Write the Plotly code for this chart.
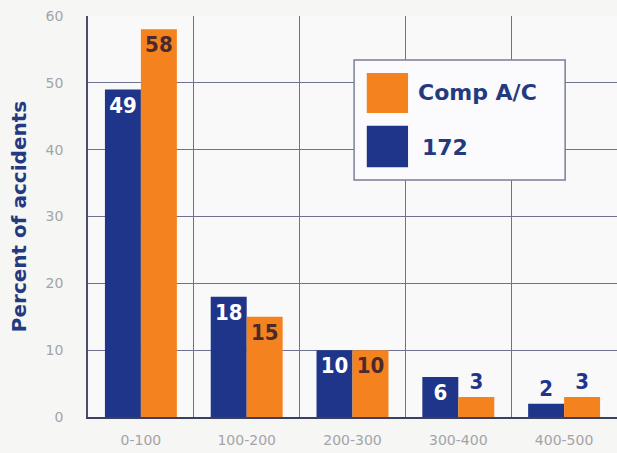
import plotly.graph_objects as go

categories = ["0-100", "100-200", "200-300", "300-400", "400-500"]
series_172 = [49, 18, 10, 6, 2]
series_comp = [58, 15, 10, 3, 3]
name_172 = "172"
name_comp = "Comp A/C"
y_ticks = [0, 10, 20, 30, 40, 50, 60]

NAVY = "#1f358a"
ORANGE = "#f3821f"
LABEL_ON_ORANGE = "#4a2a2a"
GRID = "#6e7290"
TICK_GRAY = "#a4a4a8"
TITLE_NAVY = "#243a80"

pos_172 = ["inside", "inside", "inside", "inside", "outside"]
pos_comp = ["inside", "inside", "inside", "outside", "outside"]
col_172 = ["white" if p == "inside" else NAVY for p in pos_172]
col_comp = [LABEL_ON_ORANGE if p == "inside" else NAVY for p in pos_comp]

label_font = "DejaVu Sans Condensed, DejaVu Sans, sans-serif"

fig = go.Figure()
fig.add_trace(go.Bar(
    x=categories, y=series_172, name=name_172,
    marker=dict(color=NAVY, line=dict(width=0)),
    text=[str(v) for v in series_172], textposition=pos_172,
    insidetextanchor="end",
    textfont=dict(family=label_font, size=22, color=col_172, weight="bold"),
    showlegend=False,
))
fig.add_trace(go.Bar(
    x=categories, y=series_comp, name=name_comp,
    marker=dict(color=ORANGE, line=dict(width=0)),
    text=[str(v) for v in series_comp], textposition=pos_comp,
    insidetextanchor="end",
    textfont=dict(family=label_font, size=22, color=col_comp, weight="bold"),
    showlegend=False,
))

# manual legend (large swatches as in the reference)
fig.add_shape(type="rect", xref="paper", yref="paper", x0=0.503, x1=0.902, y0=0.591, y1=0.890,
              fillcolor="#fbfbfd", line=dict(color="#7a7e98", width=1.5), layer="above")
fig.add_shape(type="rect", xref="paper", yref="paper", x0=0.527, x1=0.605, y0=0.758, y1=0.858,
              fillcolor=ORANGE, line=dict(width=0), layer="above")
fig.add_shape(type="rect", xref="paper", yref="paper", x0=0.527, x1=0.605, y0=0.623, y1=0.726,
              fillcolor=NAVY, line=dict(width=0), layer="above")
fig.add_annotation(xref="paper", yref="paper", x=0.620, y=0.808, xanchor="left", yanchor="middle",
                   text=name_comp, showarrow=False,
                   font=dict(family="DejaVu Sans, sans-serif", size=22, color=TITLE_NAVY, weight="bold"))
fig.add_annotation(xref="paper", yref="paper", x=0.628, y=0.673, xanchor="left", yanchor="middle",
                   text=name_172, showarrow=False,
                   font=dict(family="DejaVu Sans, sans-serif", size=22, color=TITLE_NAVY, weight="bold"))

fig.update_layout(
    width=617, height=453,
    margin=dict(l=88, r=0, t=16, b=36),
    paper_bgcolor="#f6f6f4",
    plot_bgcolor="#f9f9fa",
    barmode="group",
    bargap=0.32,
    bargroupgap=0,
    xaxis=dict(
        type="category",
        tickson="boundaries",
        showgrid=True, gridcolor=GRID, gridwidth=1,
        showline=True, linecolor="#3c4060", linewidth=2,
        ticks="", ticklabelstandoff=9,
        tickfont=dict(family="DejaVu Sans, sans-serif", size=14, color=TICK_GRAY),
    ),
    yaxis=dict(
        range=[0, 60], tickvals=y_ticks,
        showgrid=True, gridcolor=GRID, gridwidth=1,
        zeroline=False,
        showline=True, linecolor="#4a4e6a", linewidth=1.5,
        ticks="", ticklabelstandoff=20,
        tickfont=dict(family="DejaVu Sans, sans-serif", size=14, color=TICK_GRAY),
        title=dict(text="Percent of accidents", standoff=14,
                   font=dict(family="DejaVu Sans, sans-serif", size=20, color=TITLE_NAVY, weight="bold")),
    ),
)

fig.write_html("out.html")
